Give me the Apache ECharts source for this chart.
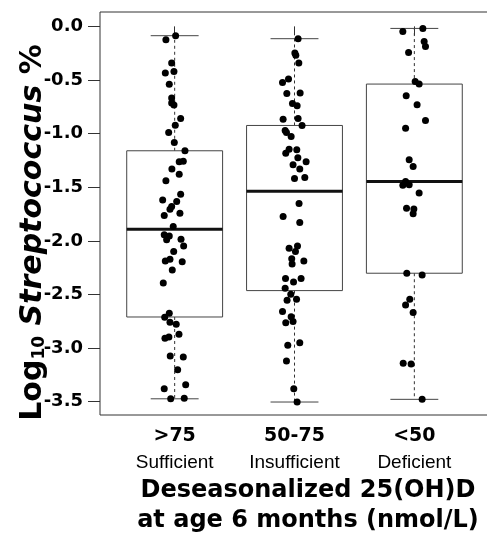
<!DOCTYPE html>
<html><head><meta charset="utf-8">
<script src="https://cdn.jsdelivr.net/npm/echarts@6/dist/echarts.min.js"></script>
<style>html,body{margin:0;padding:0;background:#fff}#c{width:487px;height:539px}</style>
</head><body><div id="c"></div>
<script>
// ---- data ----
const rangeLabels = ['>75', '50-75', '<50'];
const statusLabels = ['Sufficient', 'Insufficient', 'Deficient'];
const yTickValues = [0, -0.5, -1, -1.5, -2, -2.5, -3, -3.5];

const whiskerMax = [-0.087, -0.115, -0.019];
const upperQuartile = [-1.16, -0.924, -0.538];
const medians = [-1.892, -1.537, -1.447];
const lowerQuartile = [-2.71, -2.464, -2.302];
const whiskerMin = [-3.473, -3.503, -3.478];

const sufficientValues = [-0.087, -0.124, -0.342, -0.435, -0.42, -0.54, -0.669, -0.715, -0.734, -0.859, -0.921, -0.99, -1.083, -1.16, -1.263, -1.257, -1.329, -1.378, -1.44, -1.565, -1.618, -1.634, -1.68, -1.705, -1.764, -1.742, -1.867, -1.944, -1.954, -1.99, -1.985, -2.047, -2.1, -2.187, -2.171, -2.196, -2.271, -2.393, -2.675, -2.713, -2.76, -2.778, -2.871, -2.909, -2.897, -3.074, -3.084, -3.202, -3.342, -3.38, -3.473, -3.467];
const sufficientJitter = [0.008, -0.073, -0.025, -0.078, -0.006, -0.045, -0.025, -0.025, -0.006, 0.05, 0.005, -0.05, -0.003, 0.086, 0.038, 0.072, -0.023, 0.038, -0.073, 0.05, -0.1, 0.017, -0.025, -0.039, -0.087, 0.044, -0.012, -0.087, -0.045, -0.067, 0.053, 0.075, -0.008, -0.078, -0.039, 0.063, -0.02, -0.095, -0.045, -0.083, -0.039, 0.013, 0.036, -0.081, -0.048, -0.037, 0.072, 0.025, 0.092, -0.087, -0.033, 0.08];

const insufficientValues = [-0.115, -0.248, -0.27, -0.342, -0.523, -0.491, -0.625, -0.622, -0.719, -0.74, -0.865, -0.859, -0.924, -0.971, -0.99, -1.027, -1.145, -1.182, -1.151, -1.226, -1.263, -1.291, -1.331, -1.419, -1.409, -1.652, -1.773, -1.83, -2.069, -2.047, -2.1, -2.168, -2.187, -2.215, -2.352, -2.352, -2.383, -2.442, -2.498, -2.554, -2.545, -2.66, -2.707, -2.763, -2.753, -2.974, -2.95, -3.12, -3.379, -3.503];
const insufficientJitter = [0.03, 0.003, 0.011, 0.036, -0.1, -0.05, -0.064, 0.047, -0.017, 0.022, -0.095, 0.03, 0.063, -0.078, -0.067, -0.028, -0.045, -0.073, 0.019, 0.028, 0.097, -0.012, 0.044, 0, 0.086, 0.038, -0.095, 0.044, -0.045, 0.025, 0.008, -0.023, 0.078, -0.02, -0.075, 0.055, -0.008, -0.078, -0.031, -0.062, 0.017, -0.1, -0.028, -0.073, -0.012, -0.056, 0.044, -0.067, -0.006, 0.022];

const deficientValues = [-0.019, -0.049, -0.14, -0.187, -0.243, -0.513, -0.538, -0.647, -0.731, -0.877, -0.949, -1.244, -1.307, -1.447, -1.481, -1.478, -1.555, -1.695, -1.702, -1.748, -2.302, -2.318, -2.545, -2.598, -2.669, -3.142, -3.148, -3.478];
const deficientJitter = [0.071, -0.096, 0.082, 0.093, -0.048, 0.007, 0.04, -0.068, 0.023, 0.093, -0.073, -0.043, -0.01, -0.073, -0.096, -0.043, 0.04, -0.065, -0.004, -0.01, -0.063, 0.065, -0.038, -0.073, -0.01, -0.093, -0.027, 0.065];

// ---- build ----
const groups = [
  [sufficientValues, sufficientJitter],
  [insufficientValues, insufficientJitter],
  [deficientValues, deficientJitter]
];
const pointData = [];
groups.forEach(function (g, gi) {
  g[0].forEach(function (v, i) { pointData.push([gi + 1 + g[1][i], v]); });
});
const boxData = rangeLabels.map(function (_, i) {
  return [i + 1, whiskerMin[i], lowerQuartile[i], medians[i], upperQuartile[i], whiskerMax[i]];
});

const BOLD = "'DejaVu Sans', sans-serif";
const REG = "'Liberation Sans', Arial, sans-serif";

const chart = echarts.init(document.getElementById('c'), null, {renderer: 'canvas'});
chart.setOption({
  animation: false,
  backgroundColor: '#fff',
  grid: {left: 100, top: 12, width: 389, height: 403, show: true, borderColor: '#333', borderWidth: 1, containLabel: false, outerBoundsMode: 'none'},
  xAxis: {
    type: 'value', min: 0.377, max: 3.623,
    splitLine: {show: false},
    axisLine: {show: false},
    axisTick: {show: true, length: 9, customValues: [1, 2, 3], lineStyle: {color: '#333', width: 1}},
    axisLabel: {
      customValues: [1, 2, 3], margin: 8,
      formatter: function (v) {
        const i = Math.round(v) - 1;
        return '{b|' + rangeLabels[i] + '}\n{r|' + statusLabels[i] + '}';
      },
      rich: {
        b: {fontFamily: BOLD, fontWeight: 'bold', fontSize: 19, lineHeight: 26, color: '#000'},
        r: {fontFamily: REG, fontSize: 19, lineHeight: 28, color: '#000'}
      }
    },
    name: 'Deseasonalized 25(OH)D\nat age 6 months (nmol/L)',
    nameLocation: 'middle', nameGap: 61, nameMoveOverlap: false,
    nameTextStyle: {fontFamily: BOLD, fontWeight: 'bold', fontSize: 24, lineHeight: 30, color: '#000', padding: [0, 0, 0, 27]}
  },
  yAxis: {
    type: 'value', min: -3.624, max: 0.134,
    splitLine: {show: false},
    axisLine: {show: false},
    axisTick: {show: true, length: 12, customValues: yTickValues, lineStyle: {color: '#333', width: 1}},
    axisLabel: {
      customValues: yTickValues, margin: 17,
      formatter: function (v) { return v.toFixed(1); },
      fontFamily: BOLD, fontWeight: 'bold', fontSize: 18, color: '#000'
    },
    name: '{a|Log}{s|10}{a| }{i|Streptococcus}{a| %}',
    nameLocation: 'middle', nameRotate: 90, nameGap: 52, nameMoveOverlap: false,
    nameTextStyle: {
      padding: [0, 38, 0, 0],
      rich: {
        a: {fontFamily: BOLD, fontWeight: 'bold', fontSize: 30, lineHeight: 34, verticalAlign: 'bottom', color: '#000'},
        s: {fontFamily: BOLD, fontWeight: 'bold', fontSize: 17, lineHeight: 22, verticalAlign: 'bottom', color: '#000'},
        i: {fontFamily: BOLD, fontWeight: 'bold', fontStyle: 'italic', fontSize: 30, lineHeight: 34, verticalAlign: 'bottom', color: '#000'}
      }
    }
  },
  series: [
    {
      type: 'custom',
      data: boxData,
      z: 2,
      renderItem: function (params, api) {
        const x = api.value(0);
        const pMin = api.coord([x, api.value(1)]);
        const pQ1 = api.coord([x, api.value(2)]);
        const pMed = api.coord([x, api.value(3)]);
        const pQ3 = api.coord([x, api.value(4)]);
        const pMax = api.coord([x, api.value(5)]);
        const bw = api.size([0.8, 0])[0];
        const cw = api.size([0.4, 0])[0];
        const cx = pMed[0];
        const dash = {stroke: '#333', lineWidth: 1, lineDash: [3, 3]};
        const solid = {stroke: '#444', lineWidth: 1};
        return {
          type: 'group',
          children: [
            {type: 'line', shape: {x1: cx, y1: pQ3[1], x2: cx, y2: pMax[1]}, style: dash},
            {type: 'line', shape: {x1: cx, y1: pQ1[1], x2: cx, y2: pMin[1]}, style: dash},
            {type: 'line', shape: {x1: cx - cw / 2, y1: pMax[1], x2: cx + cw / 2, y2: pMax[1]}, style: solid},
            {type: 'line', shape: {x1: cx - cw / 2, y1: pMin[1], x2: cx + cw / 2, y2: pMin[1]}, style: solid},
            {type: 'rect', shape: {x: cx - bw / 2, y: pQ3[1], width: bw, height: pQ1[1] - pQ3[1]}, style: {fill: 'rgba(0,0,0,0)', stroke: '#444', lineWidth: 1}},
            {type: 'line', shape: {x1: cx - bw / 2, y1: pMed[1], x2: cx + bw / 2, y2: pMed[1]}, style: {stroke: '#111', lineWidth: 3}}
          ]
        };
      }
    },
    {
      type: 'scatter',
      data: pointData,
      symbol: 'circle',
      symbolSize: 7,
      z: 3,
      itemStyle: {color: '#000', opacity: 1}
    }
  ]
});
</script>
</body></html>
